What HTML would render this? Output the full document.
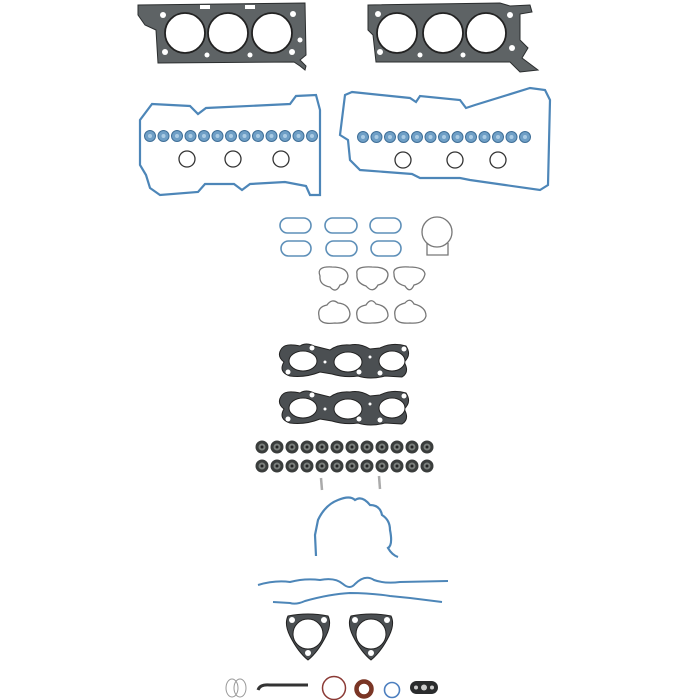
<!DOCTYPE html>
<html><head><meta charset="utf-8"><style>html,body{margin:0;padding:0;background:#fff;width:700px;height:700px;overflow:hidden}</style></head>
<body>
<svg width="700" height="700" viewBox="0 0 700 700" xmlns="http://www.w3.org/2000/svg">
<defs>
<g id="vs"><circle r="6.5" fill="#3a3d3c"/><circle r="3.5" fill="#7a7f7c"/><circle r="1.5" fill="#222"/></g>
<g id="bs"><circle r="5.5" fill="#6f9fc6" stroke="#3f6f98" stroke-width="1"/><circle r="2" fill="#aacbe4"/></g>
</defs>
<path d="M138 5 L305 3 L306 55 L300 60 L306 66 L305 70 L300 66 L294 62 L158 63 L156 30 L145 25 L138 15 Z" fill="#5e6365" stroke="#2a2d2e" stroke-width="1"/>
<g fill="#fff" stroke="#222" stroke-width="1.8"><circle cx="185" cy="33" r="20"/><circle cx="228" cy="33" r="20"/><circle cx="272" cy="33" r="20"/></g>
<g fill="#fff"><circle cx="163" cy="15" r="3"/><circle cx="165" cy="52" r="3"/><circle cx="207" cy="55" r="2.5"/><circle cx="250" cy="55" r="2.5"/><circle cx="293" cy="14" r="3"/><circle cx="292" cy="52" r="3"/><circle cx="300" cy="40" r="2.5"/><rect x="200" y="5" width="10" height="4"/><rect x="245" y="5" width="10" height="4"/></g>
<path d="M368 5 L500 3 L510 6 L530 5 L532 12 L520 14 L520 40 L528 48 L522 58 L538 70 L520 72 L510 62 L376 62 L373 35 L368 30 Z" fill="#5e6365" stroke="#2a2d2e" stroke-width="1"/>
<g fill="#fff" stroke="#222" stroke-width="1.8"><circle cx="397" cy="33" r="20"/><circle cx="443" cy="33" r="20"/><circle cx="486" cy="33" r="20"/></g>
<g fill="#fff"><circle cx="380" cy="52" r="3"/><circle cx="420" cy="55" r="2.5"/><circle cx="463" cy="55" r="2.5"/><circle cx="510" cy="15" r="3"/><circle cx="512" cy="48" r="3"/><circle cx="378" cy="14" r="3"/></g>
<path d="M152 104 L190 106 L198 114 L206 108 L290 104 L296 96 L316 95 L320 110 L320 195 L310 195 L306 186 L285 182 L250 184 L242 190 L234 184 L205 184 L198 192 L160 195 L150 188 L146 175 L140 165 L140 120 Z" fill="none" stroke="#4d86b8" stroke-width="2.2"/>
<path d="M352 92 L410 98 L416 102 L420 96 L460 100 L466 108 L475 105 L530 88 L545 90 L550 100 L548 185 L540 190 L505 185 L470 180 L460 178 L420 178 L412 174 L360 170 L350 160 L348 140 L340 135 L345 95 Z" fill="none" stroke="#4d86b8" stroke-width="2.2"/>
<g id="bl">
<use href="#bs" x="150" y="136"/><use href="#bs" x="163.5" y="136"/><use href="#bs" x="177" y="136"/><use href="#bs" x="190.5" y="136"/><use href="#bs" x="204" y="136"/><use href="#bs" x="217.5" y="136"/><use href="#bs" x="231" y="136"/><use href="#bs" x="244.5" y="136"/><use href="#bs" x="258" y="136"/><use href="#bs" x="271.5" y="136"/><use href="#bs" x="285" y="136"/><use href="#bs" x="298.5" y="136"/><use href="#bs" x="312" y="136"/>
</g>
<use href="#bl" x="213" y="1"/>
<g fill="none" stroke="#333" stroke-width="1.3"><circle cx="187" cy="159" r="8"/><circle cx="233" cy="159" r="8"/><circle cx="281" cy="159" r="8"/><circle cx="403" cy="160" r="8"/><circle cx="455" cy="160" r="8"/><circle cx="498" cy="160" r="8"/></g>
<g fill="none" stroke="#5d8fb8" stroke-width="1.6">
<rect x="280" y="218" width="31" height="15" rx="7.5"/><rect x="325" y="218" width="32" height="15" rx="7.5"/><rect x="370" y="218" width="31" height="15" rx="7.5"/>
<rect x="281" y="241" width="30" height="15" rx="7.5"/><rect x="326" y="241" width="31" height="15" rx="7.5"/><rect x="371" y="241" width="30" height="15" rx="7.5"/>
</g>
<g fill="none" stroke="#777" stroke-width="1.3"><circle cx="437" cy="232" r="15"/><path d="M427 243 L427 255 L448 255 L448 243"/>
<path d="M320 276 Q316 266 332 267 Q347 267 348 276 Q347 284 340 285 Q336 294 330 287 Q319 285 320 276 Z"/>
<path d="M357 274 Q355 266 372 267 Q388 267 388 275 Q387 283 378 285 Q373 294 366 286 Q356 283 357 274 Z"/>
<path d="M394 274 Q392 266 409 267 Q424 267 425 274 Q423 283 414 285 Q410 294 405 286 Q394 283 394 274 Z"/>
<path d="M319 316 Q317 307 327 305 Q332 298 338 303 Q349 304 350 314 Q349 324 335 323 Q319 325 319 316 Z"/>
<path d="M357 316 Q355 307 366 305 Q371 297 376 304 Q388 306 388 316 Q386 323 372 323 Q357 324 357 316 Z"/>
<path d="M395 316 Q393 306 405 303 Q410 297 414 304 Q426 307 426 316 Q424 324 410 323 Q395 324 395 316 Z"/>
</g>
<g id="ex">
<path d="M282 348 Q286 343 300 346 Q306 342 314 346 L330 350 Q338 344 350 345 Q360 343 370 349 L380 348 Q392 342 406 346 Q412 355 404 362 Q410 372 402 377 L385 376 Q370 380 358 376 Q345 378 332 374 L320 372 Q305 378 290 376 Q278 372 284 362 Q276 356 282 348 Z" fill="#4b4f52" stroke="#222" stroke-width="1"/>
<g fill="#fff" stroke="#222" stroke-width="1"><ellipse cx="303" cy="361" rx="14" ry="10"/><ellipse cx="348" cy="362" rx="14" ry="10"/><ellipse cx="392" cy="361" rx="13" ry="10"/></g>
<g fill="#fff"><circle cx="312" cy="348" r="2.5"/><circle cx="288" cy="372" r="2.5"/><circle cx="359" cy="372" r="2.5"/><circle cx="380" cy="373" r="2.5"/><circle cx="404" cy="349" r="2.5"/><circle cx="325" cy="362" r="1.5"/><circle cx="370" cy="357" r="1.5"/></g>
</g>
<use href="#ex" y="47"/>
<g id="vr"><use href="#vs" x="262" y="447"/><use href="#vs" x="277" y="447"/><use href="#vs" x="292" y="447"/><use href="#vs" x="307" y="447"/><use href="#vs" x="322" y="447"/><use href="#vs" x="337" y="447"/><use href="#vs" x="352" y="447"/><use href="#vs" x="367" y="447"/><use href="#vs" x="382" y="447"/><use href="#vs" x="397" y="447"/><use href="#vs" x="412" y="447"/><use href="#vs" x="427" y="447"/></g>
<use href="#vr" y="19"/>
<g stroke="#aaa" stroke-width="2.5"><line x1="321" y1="478" x2="322" y2="490"/><line x1="379" y1="476" x2="380" y2="489"/></g>
<path d="M316 556 L315 535 L318 520 Q325 505 338 500 Q350 495 355 500 Q362 495 370 505 Q380 505 382 515 Q390 520 390 530 Q393 545 388 548 Q392 555 398 557" fill="none" stroke="#4d86b8" stroke-width="2.2"/>
<path d="M258 585 Q275 580 290 582 Q305 578 320 580 Q335 577 343 584 Q350 590 355 584 Q365 574 374 580 Q385 584 400 582 L448 581" fill="none" stroke="#4d86b8" stroke-width="2"/>
<path d="M273 602 L290 603 Q296 605 305 601 Q330 594 350 593 Q370 593 390 596 L410 598 L442 602" fill="none" stroke="#4d86b8" stroke-width="2"/>
<g id="tri">
<path d="M288 616 Q308 612 328 616 Q332 624 326 636 Q318 652 308 660 Q298 652 290 636 Q284 624 288 616 Z" fill="#4b4f52" stroke="#222"/>
<circle cx="308" cy="634" r="15" fill="#fff" stroke="#222"/>
<g fill="#fff"><circle cx="292" cy="620" r="3"/><circle cx="324" cy="620" r="3"/><circle cx="308" cy="653" r="3"/></g>
</g>
<use href="#tri" x="63"/>
<g fill="none" stroke="#999" stroke-width="1"><ellipse cx="232" cy="688" rx="6" ry="9"/><ellipse cx="240" cy="688" rx="6" ry="9"/></g>
<path d="M258 690 Q260 684 270 685 L308 685" fill="none" stroke="#333" stroke-width="3"/>
<circle cx="334" cy="688" r="11.5" fill="none" stroke="#8b3a35" stroke-width="1.5"/>
<circle cx="364" cy="689" r="7.5" fill="none" stroke="#7a3525" stroke-width="4.5"/>
<circle cx="392" cy="690" r="7.5" fill="none" stroke="#4d7fbf" stroke-width="1.6"/>
<rect x="410" y="681" width="28" height="13" rx="6.5" fill="#2a2c2d"/>
<g fill="#ccc"><circle cx="416" cy="687.5" r="2"/><circle cx="424" cy="687.5" r="3"/><circle cx="432" cy="687.5" r="2"/></g>
</svg>
</body></html>
